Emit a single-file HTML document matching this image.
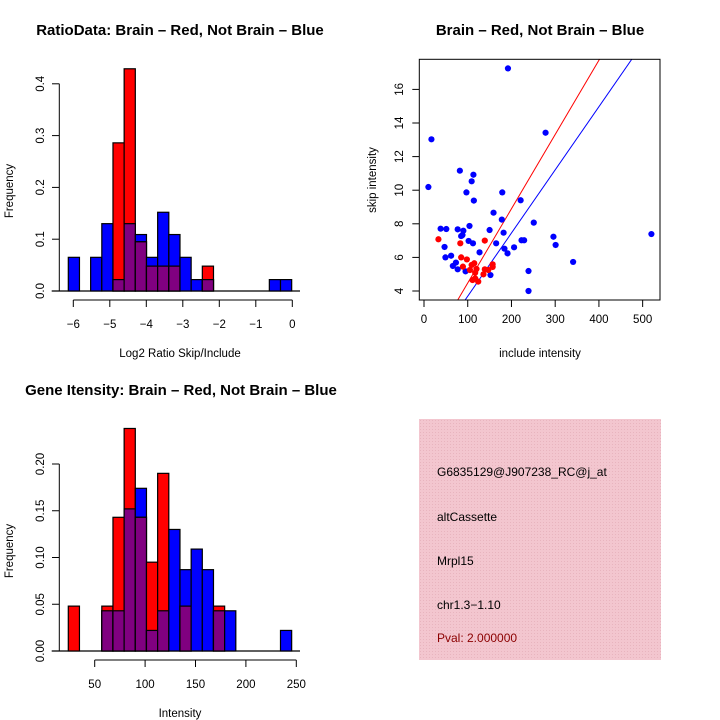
<!DOCTYPE html>
<html><head><meta charset="utf-8"><style>
body{margin:0;background:#fff;}
svg{display:block;font-family:"Liberation Sans",sans-serif;}
</style></head><body>
<svg id="c" width="720" height="720" viewBox="0 0 720 720">
<defs>
<pattern id="hatch" width="3" height="3" patternUnits="userSpaceOnUse">
<rect width="3" height="3" fill="#f3c6cf"/><rect width="1" height="1" fill="#e8b4be"/>
</pattern>
</defs>
<rect x="419" y="419" width="242" height="241" fill="url(#hatch)"/>
<g font-size="12" fill="#000">
<text x="437" y="476">G6835129@J907238_RC@j_at</text>
<text x="437" y="521">altCassette</text>
<text x="437" y="565">Mrpl15</text>
<text x="437" y="609">chr1.3−1.10</text>
<text x="437" y="642" fill="#8b0000">Pval: 2.000000</text>
</g>
</svg>
<script>
// ---- Ratio histogram data ----
const ratioBinStart = -6.137, ratioBinWidth = 0.306;
const ratioBlue = [0.065,0,0.065,0.13,0.022,0.13,0.109,0.065,0.152,0.109,0.065,0.022,0.022,0,0,0,0,0,0.022,0.022];
const ratioRed  = [0,0,0,0,0.286,0.429,0.095,0.048,0.048,0.048,0,0,0.048,0,0,0,0,0,0,0];
const ratioXTicks = [-6,-5,-4,-3,-2,-1,0];
const ratioYTicks = [0,0.1,0.2,0.3,0.4];
// ---- Intensity histogram data ----
const intBinStart = 23.8, intBinWidth = 11.08;
const intBlue = [0,0,0,0.043,0.043,0.152,0.174,0.022,0.043,0.130,0.087,0.109,0.087,0.043,0.043,0,0,0,0,0.022];
const intRed  = [0.048,0,0,0.048,0.143,0.238,0.143,0.095,0.190,0,0.048,0,0,0.048,0,0,0,0,0,0];
const intXTicks = [50,100,150,200,250];
const intYTicks = [0,0.05,0.10,0.15,0.20];
const intYLabels = ["0.00","0.05","0.10","0.15","0.20"];
// ---- Scatter data ----
const blueX = [192,17,10,278,82,113,109,97,114,179,221,159,178,251,38,51,77,90,88,85,104,150,182,102,112,165,223,229,296,301,520,47,184,206,191,127,49,62,66,73,77,95,341,239,152,239];
const blueY = [17.25,13.03,10.19,13.42,11.16,10.92,10.53,9.87,9.38,9.87,9.40,8.66,8.25,8.07,7.71,7.69,7.67,7.59,7.33,7.27,7.87,7.63,7.47,6.98,6.84,6.84,7.02,7.02,7.23,6.74,7.39,6.62,6.52,6.60,6.24,6.30,6.00,6.10,5.49,5.69,5.29,5.17,5.73,5.19,4.95,4.00];
const redX = [33,83,139,85,98,89,115,109,120,117,111,117,124,139,136,157,157,147,105];
const redY = [7.08,6.84,7.00,6.00,5.88,5.45,5.65,5.55,5.31,5.09,4.65,4.75,4.56,5.29,4.99,5.59,5.43,5.25,5.25];
const redFit = [0.056,0.0442];
const blueFit = [-0.07,0.0376];
const scXTicks = [0,100,200,300,400,500];
const scYTicks = [4,6,8,10,12,14,16];

const svg = document.getElementById('c');
const NS = 'http://www.w3.org/2000/svg';
function mk(tag, attrs, parent){
  const e = document.createElementNS(NS, tag);
  for (const k in attrs) e.setAttribute(k, attrs[k]);
  (parent||svg).appendChild(e);
  return e;
}
function txt(x,y,s,size,opts,parent){
  const e = mk('text',Object.assign({x:x,y:y,'font-size':size,'text-anchor':'middle'},opts||{}),parent);
  e.textContent = s;
  return e;
}

function histogram(cfg){
  const g = mk('g',{});
  
  
  const xs = v => cfg.x0px + (v - cfg.x0) * cfg.xScale;
  const ys = v => cfg.basePx - v * cfg.yScale;
  const bl = mk('line',{x1:51.7,x2:300,y1:cfg.basePx,y2:cfg.basePx,stroke:'#000','stroke-width':1.3},g);
  
  
  for (let i=0;i<cfg.blue.length;i++){
    const l = xs(cfg.binStart + i*cfg.binWidth), r = xs(cfg.binStart + (i+1)*cfg.binWidth);
    const b = cfg.blue[i], rd = cfg.red[i];
    const draw = (v,col,nm)=>{
      if (v<=0) return;
      const rc = mk('rect',{x:l,y:ys(v),width:r-l,height:ys(0)-ys(v),fill:col,stroke:'#000','stroke-width':1.2},g);
      
      
    };
    draw(b,'#0000ff','blue');
    draw(rd,'#ff0000','red');
    draw(Math.min(b,rd),'#800080','overlap');
  }
  const yt = cfg.yTicks;
  mk('line',{x1:59.3,x2:59.3,y1:ys(yt[0]),y2:ys(yt[yt.length-1]),stroke:'#000'},g);
  yt.forEach((v,i)=>{
    mk('line',{x1:52,x2:59.3,y1:ys(v),y2:ys(v),stroke:'#000'},g);
    const t = txt(0,0,cfg.yLabels[i],11.5,{transform:`translate(44,${ys(v)}) rotate(-90)`},g);
    
    
  });
  const xt = cfg.xTicks;
  mk('line',{x1:xs(xt[0]),x2:xs(xt[xt.length-1]),y1:cfg.axisPx,y2:cfg.axisPx,stroke:'#000'},g);
  xt.forEach(v=>{
    mk('line',{x1:xs(v),x2:xs(v),y1:cfg.axisPx,y2:cfg.axisPx+7,stroke:'#000'},g);
    const t = txt(xs(v),cfg.axisPx+28,cfg.xFmt(v),11.5,{},g);
    
    
  });
  const xl = txt(180,cfg.axisPx+57,cfg.xLabel,11.5,{},g);
  
  
  const yl = txt(0,0,'Frequency',11.5,{transform:`translate(13,${cfg.basePx-100}) rotate(-90)`},g);
  
  
  const tt = txt(cfg.titleX,cfg.titleY,cfg.title,15,{'font-weight':'bold'},g);
  
  
}
const fmtMinus = v => String(v).replace('-','−');
histogram({name:'ratio-histogram',x0:-6,x0px:73.3,xScale:36.5,basePx:291,yScale:518,axisPx:300,
  binStart:ratioBinStart,binWidth:ratioBinWidth,blue:ratioBlue,red:ratioRed,
  yTicks:ratioYTicks,yLabels:ratioYTicks.map(v=>v.toFixed(1)),xTicks:ratioXTicks,xFmt:fmtMinus,
  xLabel:'Log2 Ratio Skip/Include',title:'RatioData: Brain – Red, Not Brain – Blue',titleX:180,titleY:35});
histogram({name:'intensity-histogram',x0:50,x0px:94.7,xScale:1.008,basePx:651,yScale:935,axisPx:660,
  binStart:intBinStart,binWidth:intBinWidth,blue:intBlue,red:intRed,
  yTicks:intYTicks,yLabels:intYLabels,xTicks:intXTicks,xFmt:v=>String(v),
  xLabel:'Intensity',title:'Gene Itensity: Brain – Red, Not Brain – Blue',titleX:181,titleY:395});

(function(){
  const g = mk('g',{});
  
  
  const L=419.3,R=660,T=59.3,B=300;
  const xs = v => 424 + v*0.4373;
  const ys = v => 291 - (v-4)*16.8;
  const xinv = p => (p-424)/0.4373;
  const clip = mk('clipPath',{id:'scclip'},g);
  mk('rect',{x:L,y:T,width:R-L,height:B-T},clip);
  [[redFit,'#ff0000','red-fit-line'],[blueFit,'#0000ff','blue-fit-line']].forEach(([f,col,nm])=>{
    const x1 = xinv(L), x2 = xinv(R);
    const ln = mk('line',{x1:xs(x1),y1:ys(f[0]+f[1]*x1),x2:xs(x2),y2:ys(f[0]+f[1]*x2),stroke:col,'stroke-width':1,'clip-path':'url(#scclip)'},g);
    
    
  });
  blueX.forEach((x,i)=>{
    const c = mk('circle',{cx:xs(x),cy:ys(blueY[i]),r:3.1,fill:'#0000ff'},g);
    
    
  });
  redX.forEach((x,i)=>{
    const c = mk('circle',{cx:xs(x),cy:ys(redY[i]),r:3.1,fill:'#ff0000'},g);
    
    
  });
  mk('rect',{x:L,y:T,width:R-L,height:B-T,fill:'none',stroke:'#000','stroke-width':1},g);
  scXTicks.forEach(v=>{
    mk('line',{x1:xs(v),x2:xs(v),y1:B,y2:B+7,stroke:'#000'},g);
    const t = txt(xs(v),323,String(v),11.5,{},g);
    
    
  });
  scYTicks.forEach(v=>{
    mk('line',{x1:L-7,x2:L,y1:ys(v),y2:ys(v),stroke:'#000'},g);
    const t = txt(0,0,String(v),11.5,{transform:`translate(403,${ys(v)}) rotate(-90)`},g);
    
    
  });
  const xl = txt(540,357,'include intensity',11.5,{},g);
  
  
  const yl = txt(0,0,'skip intensity',11.5,{transform:`translate(376,180) rotate(-90)`},g);
  
  
  const tt = txt(540,35,'Brain – Red, Not Brain – Blue',15,{'font-weight':'bold'},g);
  
  
})();
</script>
</body></html>
